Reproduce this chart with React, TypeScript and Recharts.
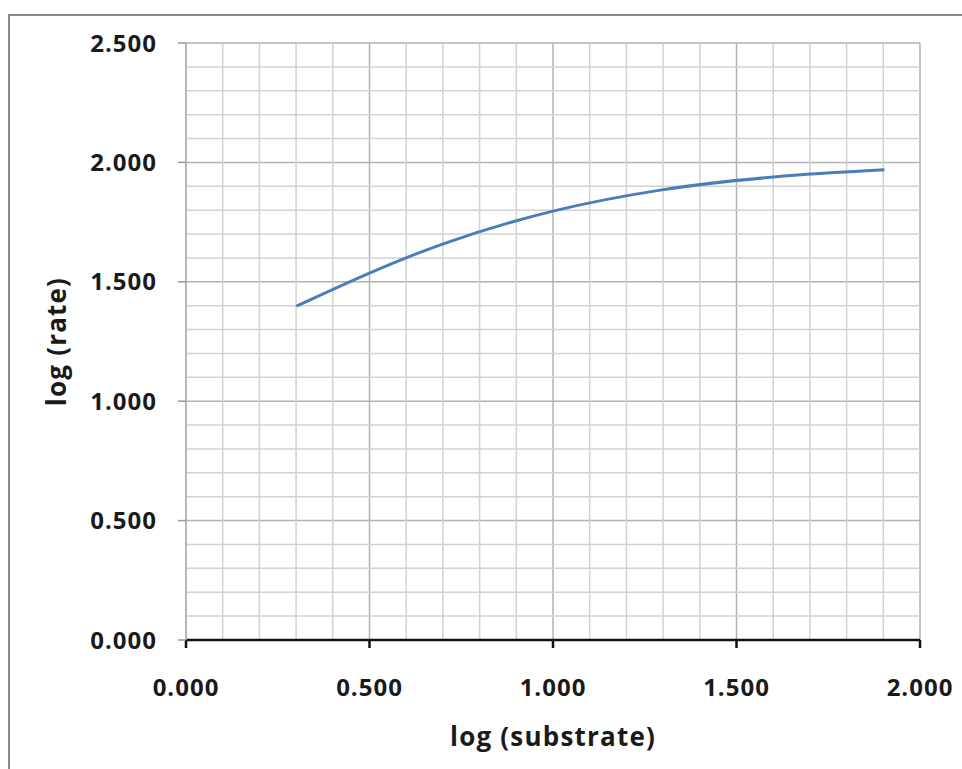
import React from 'react';
import { LineChart, Line, XAxis, YAxis, CartesianGrid, ReferenceLine } from 'recharts';

const logSubstrate = [0.301, 0.699, 1.0, 1.301, 1.602, 1.903];
const logRate = [1.398, 1.658, 1.796, 1.886, 1.939, 1.969];

const xTicks = [0, 0.5, 1.0, 1.5, 2.0];
const yTicks = [0, 0.5, 1.0, 1.5, 2.0, 2.5];
const xMinor = [0.1, 0.2, 0.3, 0.4, 0.6, 0.7, 0.8, 0.9, 1.1, 1.2, 1.3, 1.4, 1.6, 1.7, 1.8, 1.9];
const yMinor = [0.1, 0.2, 0.3, 0.4, 0.6, 0.7, 0.8, 0.9, 1.1, 1.2, 1.3, 1.4, 1.6, 1.7, 1.8, 1.9, 2.1, 2.2, 2.3, 2.4];

const xTitle = 'log (substrate)';
const yTitle = 'log (rate)';

const data = logSubstrate.map((x, i) => ({ x, y: logRate[i] }));

const FONT = '"Open Sans", "Liberation Sans", sans-serif';
const fmt = (v: number) => v.toFixed(3);

const tickStyle = { fontFamily: FONT, fontSize: 24, fontWeight: 700, fill: '#1a1a1a', letterSpacing: 1 };

export default function App() {
  return (
    <div style={{ position: 'absolute', left: 0, top: 0, width: 962, height: 769, background: '#fff', overflow: 'hidden' }}>
      <div
        style={{
          position: 'absolute',
          left: 8,
          top: 14,
          width: 1000,
          height: 800,
          border: '2px solid #8a8a8a',
          boxSizing: 'border-box',
        }}
      />
      <div style={{ position: 'absolute', left: 0, top: 0 }}>
        <LineChart width={962} height={769} data={data} margin={{ top: 43, right: 42, bottom: 0, left: 0 }}>
          <CartesianGrid stroke="#b2b2b2" strokeWidth={1.5} />
          {xMinor.map((v) => (
            <ReferenceLine key={'xm' + v} x={v} stroke="#d2d2d2" strokeWidth={1.5} />
          ))}
          {yMinor.map((v) => (
            <ReferenceLine key={'ym' + v} y={v} stroke="#d2d2d2" strokeWidth={1.5} />
          ))}
          <XAxis
            type="number"
            dataKey="x"
            domain={[0, 2]}
            ticks={xTicks}
            tickFormatter={fmt}
            height={129}
            axisLine={{ stroke: '#111', strokeWidth: 2.5 }}
            tickLine={{ stroke: '#111', strokeWidth: 2.5 }}
            tickSize={8}
            tickMargin={31}
            tick={tickStyle}
            interval={0}
            label={(props: any) => {
              const vb = props.viewBox || {};
              return (
                <text
                  x={vb.x + vb.width / 2}
                  y={vb.y + 106}
                  textAnchor="middle"
                  style={{ fontFamily: FONT, fontSize: 26, fontWeight: 700, fill: '#1a1a1a', letterSpacing: 1.2 }}
                >
                  {xTitle}
                </text>
              );
            }}
          />
          <YAxis
            type="number"
            dataKey="y"
            domain={[0, 2.5]}
            ticks={yTicks}
            tickFormatter={fmt}
            width={186}
            axisLine={{ stroke: '#b2b2b2', strokeWidth: 1.5 }}
            tickLine={{ stroke: '#9a9a9a', strokeWidth: 1.5 }}
            tickSize={8}
            tickMargin={21}
            tick={tickStyle}
            interval={0}
            label={(props: any) => {
              const vb = props.viewBox || {};
              const cx = vb.x + 66;
              const cy = vb.y + vb.height / 2;
              return (
                <text
                  x={cx}
                  y={cy}
                  textAnchor="middle"
                  transform={`rotate(-90, ${cx}, ${cy})`}
                  style={{ fontFamily: FONT, fontSize: 26, fontWeight: 700, fill: '#1a1a1a', letterSpacing: 1.2 }}
                >
                  {yTitle}
                </text>
              );
            }}
          />
          <Line
            type="monotone"
            dataKey="y"
            stroke="#4a7ebb"
            strokeWidth={3}
            dot={false}
            isAnimationActive={false}
          />
        </LineChart>
      </div>
    </div>
  );
}
